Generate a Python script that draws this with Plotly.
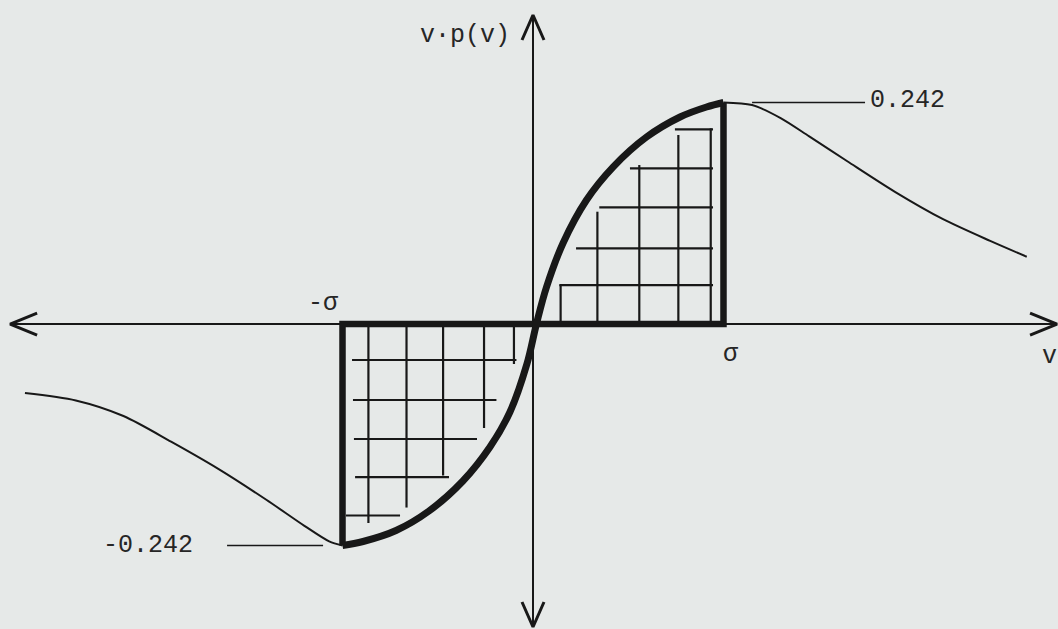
import plotly.graph_objects as go

W, H = 1058, 629
X_RANGE = [-2.798, 2.756]
Y_RANGE = [-0.3332, 0.3540]
PX_V = W / (X_RANGE[1] - X_RANGE[0])   # pixels per unit of v
PX_Y = H / (Y_RANGE[1] - Y_RANGE[0])   # pixels per unit of v·p(v)

INK = "#181818"
PAPER = "#e6e9e8"
FONT = dict(family="Liberation Mono, Cousine, monospace", size=25, color="#262626")

SIGMA = 1.0
PEAK = 0.242

# v·p(v) outside ±σ (thin tails)
left_tail_v = [-2.667, -2.40, -2.15, -1.90, -1.65, -1.40, -1.20, -1.07, -1.0]
left_tail_y = [-0.0754, -0.0835, -0.1005, -0.1285, -0.1585, -0.1920, -0.2205, -0.2375, -0.242]
right_tail_v = [1.0, 1.15, 1.30, 1.45, 1.65, 1.90, 2.15, 2.40, 2.592]
right_tail_y = [0.242, 0.2392, 0.2250, 0.2050, 0.1778, 0.1444, 0.1148, 0.0908, 0.0735]

# v·p(v) between -σ and σ (heavy stroke)
center_v = [-1.0, -0.892, -0.719, -0.546, -0.368, -0.226, -0.121, -0.032, 0.018,
            0.071, 0.158, 0.281, 0.420, 0.596, 0.772, 0.911, 1.0]
center_y = [-0.242, -0.2376, -0.2256, -0.2043, -0.1715, -0.1344, -0.0961, -0.0437, 0.0,
            0.0404, 0.0885, 0.1355, 0.1715, 0.2043, 0.2262, 0.2371, 0.242]

# hatching inside the area 0..σ (verticals rise from the axis, horizontals run to the σ edge)
hatch_r_vx = [0.145, 0.338, 0.558, 0.763, 0.933]
hatch_r_vtop = [0.0426, 0.1227, 0.1737, 0.2065, 0.2138]
hatch_r_hy = [0.0426, 0.0827, 0.1275, 0.1701, 0.2127]
hatch_r_hstart = [0.138, 0.226, 0.348, 0.509, 0.745]
hatch_r_hend = 0.945

# hatching inside the area -σ..0 (verticals hang from the axis, horizontals start at the -σ edge)
hatch_l_vx = [-0.864, -0.664, -0.472, -0.257, -0.100]
hatch_l_vbot = [-0.2174, -0.2005, -0.1655, -0.1136, -0.0437]
hatch_l_hy = [-0.0393, -0.0830, -0.1256, -0.1672, -0.2092]
hatch_l_hstart = [-0.950, -0.945, -0.940, -0.934, -0.982]
hatch_l_hend = [-0.087, -0.192, -0.294, -0.441, -0.698]

# axis extents
h_axis = [-2.745, 2.751]
v_axis = [-0.331, 0.3376]

fig = go.Figure()


def seg_trace(xs, ys, width, color=INK):
    fig.add_trace(go.Scatter(x=xs, y=ys, mode="lines", hoverinfo="skip",
                             line=dict(color=color, width=width), showlegend=False))


# hatching
hx, hy = [], []
for x, top in zip(hatch_r_vx, hatch_r_vtop):
    hx += [x, x, None]
    hy += [0, top, None]
for y, x0 in zip(hatch_r_hy, hatch_r_hstart):
    hx += [x0, hatch_r_hend, None]
    hy += [y, y, None]
for x, bot in zip(hatch_l_vx, hatch_l_vbot):
    hx += [x, x, None]
    hy += [0, bot, None]
for y, x0, x1 in zip(hatch_l_hy, hatch_l_hstart, hatch_l_hend):
    hx += [x0, x1, None]
    hy += [y, y, None]
seg_trace(hx, hy, 2.2)

# axes
seg_trace(h_axis, [0, 0], 2)
seg_trace([0, 0], v_axis, 2)

# open arrowheads at the axis ends
al, aw = 27 / PX_V, 11 / PX_Y     # horizontal arrows: length along v, half-width along y
bl, bw = 25 / PX_Y, 11 / PX_V     # vertical arrows: length along y, half-width along v
seg_trace([h_axis[0] + al, h_axis[0], h_axis[0] + al], [aw, 0, -aw], 3)
seg_trace([h_axis[1] - al, h_axis[1], h_axis[1] - al], [aw, 0, -aw], 3)
seg_trace([-bw, 0, bw], [v_axis[1] - bl, v_axis[1], v_axis[1] - bl], 3)
seg_trace([-bw, 0, bw], [v_axis[0] + bl, v_axis[0], v_axis[0] + bl], 3)

# heavy borders of the two areas
seg_trace([0, SIGMA, SIGMA], [0, 0, PEAK], 6.5)
seg_trace([0, -SIGMA, -SIGMA], [0, 0, -PEAK], 6.5)

# the curve
for tv, ty in ((left_tail_v, left_tail_y), (right_tail_v, right_tail_y)):
    fig.add_trace(go.Scatter(x=tv, y=ty, mode="lines", hoverinfo="skip",
                             line=dict(color=INK, width=2, shape="spline", smoothing=0.8),
                             showlegend=False))
fig.add_trace(go.Scatter(x=center_v, y=center_y, mode="lines", hoverinfo="skip",
                         line=dict(color=INK, width=7, shape="spline", smoothing=1.0),
                         showlegend=False))

# leader lines to the extreme values
seg_trace([1.150, 1.743], [PEAK, PEAK], 1.5)
seg_trace([-1.606, -1.102], [-PEAK, -PEAK], 1.5)

annotations = [
    dict(x=1.759, y=PEAK, text=f"{PEAK:.3f}", xanchor="left", yanchor="middle", yshift=2),
    dict(x=-1.774, y=-PEAK, text=f"-{PEAK:.3f}", xanchor="right", yanchor="middle"),
    dict(x=-1.102, y=0.0219, text="-σ", xanchor="center", yanchor="middle"),
    dict(x=1.039, y=-0.0328, text="σ", xanchor="center", yanchor="middle"),
    dict(x=2.712, y=-0.035, text="v", xanchor="center", yanchor="middle"),
    dict(x=-0.357, y=0.3147, text="v·p(v)", xanchor="center", yanchor="middle"),
]
for a in annotations:
    a.update(showarrow=False, font=FONT, xref="x", yref="y")

fig.update_layout(
    width=W, height=H, autosize=False,
    margin=dict(l=0, r=0, t=0, b=0, pad=0),
    paper_bgcolor=PAPER, plot_bgcolor=PAPER,
    xaxis=dict(range=X_RANGE, visible=False, fixedrange=True),
    yaxis=dict(range=Y_RANGE, visible=False, fixedrange=True),
    annotations=annotations,
    showlegend=False,
)

fig.write_html("out.html", config={"displayModeBar": False})
